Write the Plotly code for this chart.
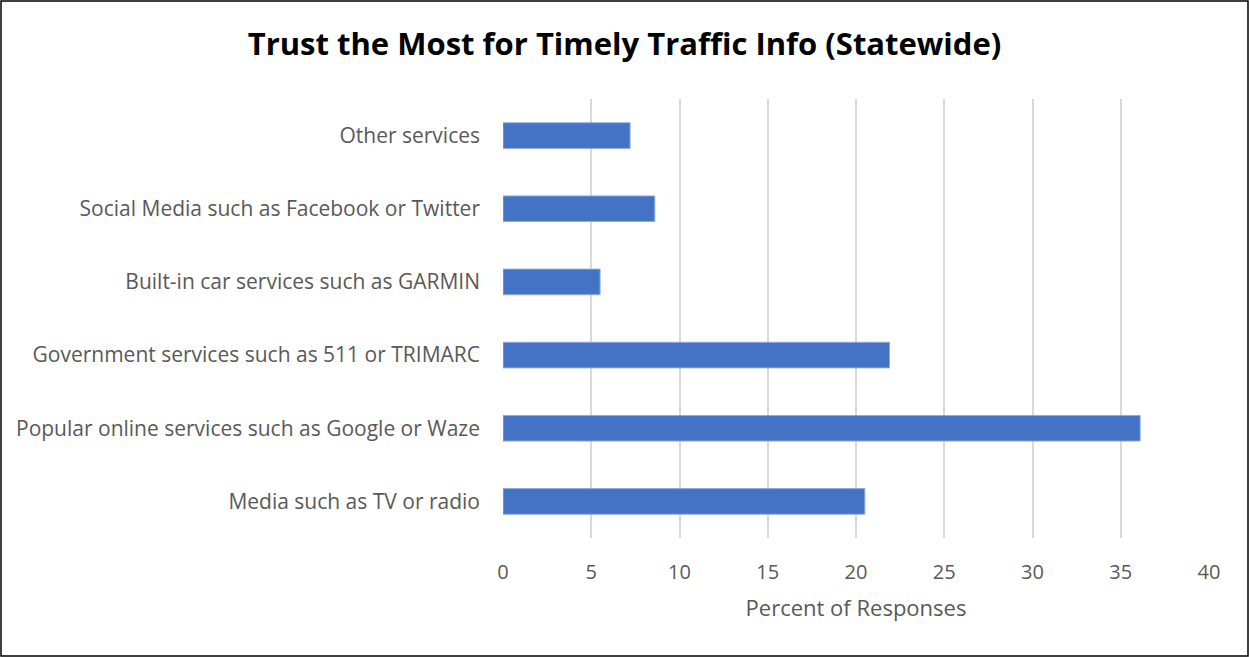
import plotly.graph_objects as go

# Survey results: share of respondents trusting each source the most
categories = [
    "Media such as TV or radio",
    "Popular online services such as Google or Waze",
    "Government services such as 511 or TRIMARC",
    "Built-in car services such as GARMIN",
    "Social Media such as Facebook or Twitter",
    "Other services",
]
percent = [20.5, 36.1, 21.9, 5.5, 8.6, 7.2]
x_ticks = [0, 5, 10, 15, 20, 25, 30, 35, 40]

W, H = 1249, 657
ML, MR, MT, MB = 503, 40, 99, 119
FONT = "Open Sans"
GRAY = "#595959"

fig = go.Figure(
    go.Bar(
        x=percent,
        y=categories,
        orientation="h",
        marker=dict(color="#4472C4", line=dict(color="#8FAADC", width=1)),
        hoverinfo="x+y",
    )
)

# frame around the whole chart, expressed in paper units of the plot area
pw = W - ML - MR
ph = H - MT - MB
fig.add_shape(
    type="rect", xref="paper", yref="paper",
    x0=(1 - ML) / pw, x1=(W - 1 - ML) / pw,
    y0=(1 - MB) / ph, y1=1 + (MT - 1) / ph,
    line=dict(color="black", width=1.5), layer="above",
)

fig.update_layout(
    width=W, height=H,
    margin=dict(l=ML, r=MR, t=MT, b=MB),
    paper_bgcolor="white", plot_bgcolor="white",
    bargap=0.65,
    showlegend=False,
    title=dict(
        text="<b>Trust the Most for Timely Traffic Info (Statewide)</b>",
        x=0.5, xanchor="center", y=1 - 44 / H, yanchor="middle",
        font=dict(family=FONT, size=31, color="black"),
    ),
    xaxis=dict(
        range=[0, 40], tickvals=x_ticks, ticktext=[str(v) for v in x_ticks],
        showgrid=True, gridcolor="#D9D9D9", gridwidth=1.5,
        zeroline=False, showline=False, ticks="",
        ticklabelstandoff=20,
        tickfont=dict(family=FONT, size=20, color=GRAY),
        title=dict(text="Percent of Responses", standoff=16,
                   font=dict(family=FONT, size=22, color=GRAY)),
    ),
    yaxis=dict(
        showgrid=False, zeroline=False, showline=False, ticks="",
        ticklabelstandoff=22,
        tickfont=dict(family=FONT, size=21, color=GRAY),
    ),
)

fig.write_html("out.html")
